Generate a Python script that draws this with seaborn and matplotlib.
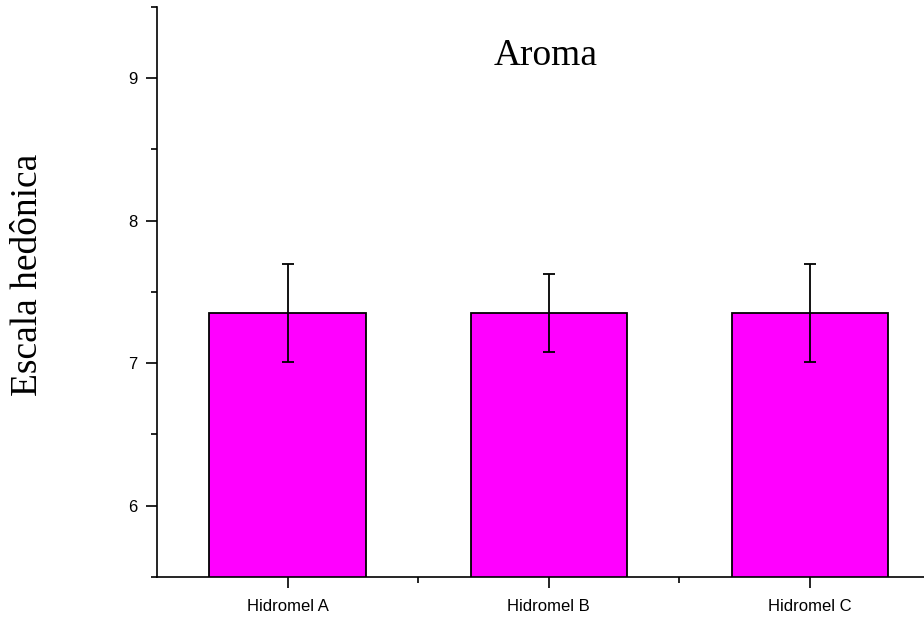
import numpy as np
import pandas as pd
import seaborn as sns
import matplotlib.pyplot as plt
from matplotlib.ticker import MultipleLocator

# dados
amostras = ['Hidromel A', 'Hidromel B', 'Hidromel C']
medias = [7.35, 7.35, 7.35]
desvios = [0.345, 0.275, 0.345]

df = pd.DataFrame({'Amostra': amostras, 'Nota': medias})

sns.set_style("ticks")
plt.rcParams['font.family'] = ['Liberation Sans', 'DejaVu Sans']
serif = ['Liberation Serif', 'DejaVu Serif']

fig = plt.figure(figsize=(9.24, 6.21), dpi=100)
ax = fig.add_axes([0.170, 0.071, 0.848, 0.918])

sns.barplot(data=df, x='Amostra', y='Nota', color='#ff00ff', saturation=1,
            edgecolor='black', linewidth=1.3, width=0.6, errorbar=None, ax=ax)
ax.errorbar(np.arange(len(amostras)), medias, yerr=desvios, fmt='none',
            ecolor='black', elinewidth=1.3, capsize=4.5, capthick=1.3)

ax.set_ylim(5.5, 9.5)
ax.set_xlim(-0.5, 2.5)
ax.yaxis.set_major_locator(MultipleLocator(1))
ax.yaxis.set_minor_locator(MultipleLocator(0.5))
ax.set_xticks(np.arange(len(amostras)))
ax.set_xticks([0.5, 1.5, 2.5], minor=True)

for s in ['top', 'right']:
    ax.spines[s].set_visible(False)
for s in ['left', 'bottom']:
    ax.spines[s].set_linewidth(1.2)
    ax.spines[s].set_color('black')

ax.tick_params(which='major', length=8, width=1.2, labelsize=12,
               color='black', labelcolor='black')
ax.tick_params(which='minor', length=4, width=1.2, color='black')
ax.tick_params(axis='y', pad=6)
ax.tick_params(axis='x', pad=8)

ax.set_xlabel('')
ax.set_ylabel('')
fig.text(0.040, 0.557, 'Escala hedônica', rotation=90, rotation_mode='anchor',
         ha='center', va='baseline', family=serif, fontsize=27, color='black')
ax.text(0.496, 0.898, 'Aroma', transform=ax.transAxes, ha='center', va='baseline',
        family=serif, fontsize=27, color='black')

plt.savefig('out.png', dpi=100)
